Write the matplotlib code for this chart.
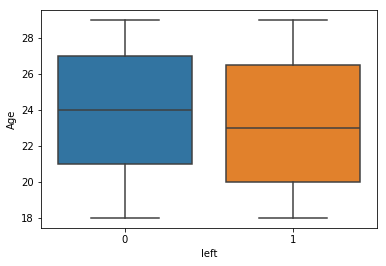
import matplotlib
matplotlib.use("Agg")
import matplotlib.pyplot as plt

categories = ["0", "1"]
whisker_low = [18, 18]
q1 = [21, 20]
median = [24, 23]
q3 = [27, 26.5]
whisker_high = [29, 29]
colors = ["#3274a1", "#e1812c"]
line_color = "#3f3f3f"

fig = plt.figure(figsize=(386 / 72, 266 / 72), dpi=72)
ax = fig.add_axes([41 / 386, 1 - 228 / 266, 336 / 386, 218 / 266])

stats = []
for i, c in enumerate(categories):
    stats.append(dict(label=c, whislo=whisker_low[i], q1=q1[i], med=median[i],
                      q3=q3[i], whishi=whisker_high[i], fliers=[]))

lp = dict(color=line_color, linewidth=1.5)
bp = ax.bxp(stats, positions=range(len(categories)), widths=0.8, patch_artist=True,
            showfliers=False, boxprops=dict(edgecolor=line_color, linewidth=1.5),
            medianprops=lp, whiskerprops=lp, capprops=lp, capwidths=0.4)
for patch, col in zip(bp["boxes"], colors):
    patch.set_facecolor(col)

ax.set_xlim(-0.5, len(categories) - 0.5)
ax.set_ylim(17.45, 29.55)
ax.set_xticks(range(len(categories)))
ax.set_xticklabels(categories)
ax.set_xlabel("left")
ax.set_ylabel("Age")

fig.savefig("out.png", dpi=72)
